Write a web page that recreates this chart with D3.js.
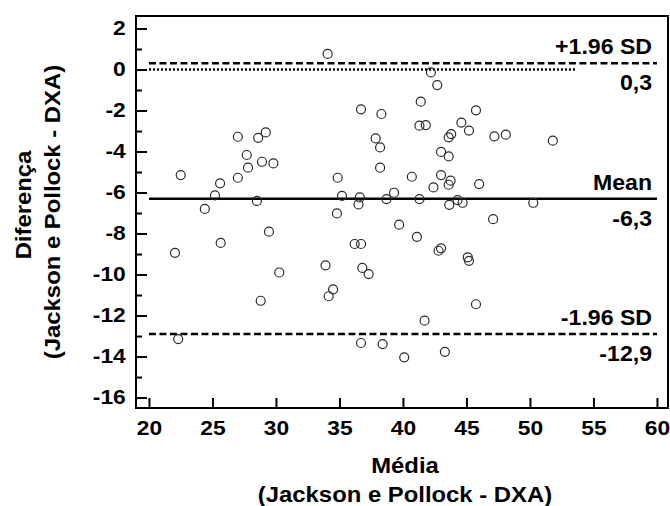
<!DOCTYPE html>
<html>
<head>
<meta charset="utf-8">
<script src="https://cdn.jsdelivr.net/npm/d3@7"></script>
<style>
  html, body { margin: 0; padding: 0; background: #fff; }
  svg { display: block; }
  text { font-family: "Liberation Sans", Arial, sans-serif; font-weight: bold; fill: #000; }
</style>
</head>
<body>
<script>
// ---- data ----
const meanValues = [22.5, 24.4, 25.2, 25.6, 27.0, 27.0, 27.7, 27.8, 28.5, 28.6, 28.9, 29.2, 29.8,
  34.07, 42.2, 42.7, 36.7, 38.3, 41.4, 41.3, 41.8, 37.85, 38.2, 38.2, 34.86, 40.7, 42.4,
  35.2, 36.6, 36.5, 38.7, 39.3, 41.3, 34.8, 45.75, 44.6, 45.2, 43.6, 43.8, 47.2, 48.1, 51.8,
  43.0, 43.6, 43.0, 43.75, 43.6, 46.0, 44.3, 44.7, 43.65, 50.26, 47.1,
  22.05, 25.65, 29.45, 30.26, 28.8, 22.3, 39.7, 41.1, 42.8, 43.0, 36.2, 36.7, 33.9, 36.8,
  37.3, 34.5, 34.15, 41.7, 36.7, 38.4, 40.1, 45.1, 45.2, 45.75, 43.3];
const diffValues = [-5.15, -6.8, -6.14, -5.55, -3.28, -5.28, -4.17, -4.79, -6.41, -3.33, -4.5, -3.07, -4.58,
  0.76, -0.14, -0.76, -1.94, -2.17, -1.57, -2.74, -2.71, -3.36, -3.8, -4.79, -5.28, -5.23, -5.75,
  -6.16, -6.24, -6.58, -6.32, -6.01, -6.32, -7.02, -1.99, -2.59, -2.98, -3.31, -3.15, -3.26, -3.18, -3.47,
  -4.02, -4.24, -5.15, -5.42, -5.62, -5.59, -6.37, -6.5, -6.6, -6.5, -7.3,
  -8.94, -8.46, -7.91, -9.9, -11.28, -13.15, -7.57, -8.16, -8.84, -8.72, -8.51, -8.51, -9.55, -9.68,
  -9.98, -10.72, -11.06, -12.25, -13.34, -13.39, -14.04, -9.16, -9.33, -11.45, -13.77];

const upperLimit = 0.3, meanDiff = -6.3, lowerLimit = -12.9;
const zeroLineEnd = 53.6;
const refLabels = [
  { value: upperLimit, name: "+1.96 SD", num: "0,3", kind: "dashed" },
  { value: meanDiff, name: "Mean", num: "-6,3", kind: "solid" },
  { value: lowerLimit, name: "-1.96 SD", num: "-12,9", kind: "dashed" }
];
const xTicks = [20, 25, 30, 35, 40, 45, 50, 55, 60];
const yMajorTicks = [2, 0, -2, -4, -6, -8, -10, -12, -14, -16];
const yMinorTicks = [1, -1, -3, -5, -7, -9, -11, -13, -15];
const xTitle = ["Média", "(Jackson e Pollock - DXA)"];
const yTitle = ["Diferença", "(Jackson e Pollock - DXA)"];

// ---- layout ----
const W = 670, H = 506;
const L = 136, R = 668, T = 16, B = 408;
const x = d3.scaleLinear().domain([18.98, 60.87]).range([L, R]);
const y = d3.scaleLinear().domain([-16.51, 2.61]).range([B, T]);

const svg = d3.select("body").append("svg").attr("width", W).attr("height", H);

function stretchText(g, tx, ty, str, size, sx, anchor, rot) {
  return g.append("text")
    .attr("transform", `translate(${tx},${ty})` + (rot ? ` rotate(${rot})` : "") + ` scale(${sx},1)`)
    .attr("text-anchor", anchor)
    .style("font-size", size + "px")
    .text(str);
}

// reference lines
svg.append("line")
  .attr("x1", x(20)).attr("x2", x(zeroLineEnd))
  .attr("y1", y(0)).attr("y2", y(0))
  .attr("stroke", "#000").attr("stroke-width", 2.5).attr("stroke-dasharray", "2,2");

refLabels.forEach(r => {
  svg.append("line")
    .attr("x1", x(20)).attr("x2", x(60))
    .attr("y1", y(r.value)).attr("y2", y(r.value))
    .attr("stroke", "#000").attr("stroke-width", 2.5)
    .attr("stroke-dasharray", r.kind === "dashed" ? "7,3.5" : null);
  stretchText(svg, 652, y(r.value) - 9, r.name, 22, 1.05, "end");
  stretchText(svg, 652, y(r.value) + 27, r.num, 22, 1.05, "end");
});

// points
svg.append("g").selectAll("circle")
  .data(meanValues.map((m, i) => [m, diffValues[i]]))
  .join("circle")
  .attr("cx", d => x(d[0])).attr("cy", d => y(d[1]))
  .attr("r", 4.5)
  .attr("fill", "none").attr("stroke", "#2a2a2a").attr("stroke-width", 1.2);

// axes
const gyMinor = svg.append("g").attr("transform", `translate(${L},0)`)
  .call(d3.axisLeft(y).tickValues(yMinorTicks).tickSizeInner(-6).tickSizeOuter(0).tickFormat(""));
const gyMajor = svg.append("g").attr("transform", `translate(${L},0)`)
  .call(d3.axisLeft(y).tickValues(yMajorTicks).tickSizeInner(-11).tickSizeOuter(0).tickPadding(9)
    .tickFormat(d3.format("d")));
const gx = svg.append("g").attr("transform", `translate(0,${B})`)
  .call(d3.axisBottom(x).tickValues(xTicks).tickSizeInner(-10).tickSizeOuter(0).tickPadding(13));

[gyMinor, gyMajor, gx].forEach(g => {
  g.select(".domain").remove();
  g.selectAll(".tick line").attr("stroke", "#000").attr("stroke-width", 2);
  g.selectAll(".tick text")
    .style("font-size", "20px")
    .style("font-family", "'Liberation Sans', Arial, sans-serif")
    .style("font-weight", "bold")
    .attr("fill", "#000")
    .attr("transform", "scale(1.14,1)");
});
gyMajor.selectAll(".tick text").text(d => d3.format("d")(d).replace("−", "-"));

// frame
svg.append("rect")
  .attr("x", L).attr("y", T).attr("width", R - L).attr("height", B - T)
  .attr("fill", "none").attr("stroke", "#000").attr("stroke-width", 2);

// axis titles
stretchText(svg, 405, 473, xTitle[0], 21.5, 1.11, "middle");
stretchText(svg, 405, 502, xTitle[1], 21.5, 1.11, "middle");
stretchText(svg, 31, 205, yTitle[0], 21.5, 1.11, "middle", -90);
stretchText(svg, 60, 212, yTitle[1], 21.5, 1.11, "middle", -90);
</script>
</body>
</html>
